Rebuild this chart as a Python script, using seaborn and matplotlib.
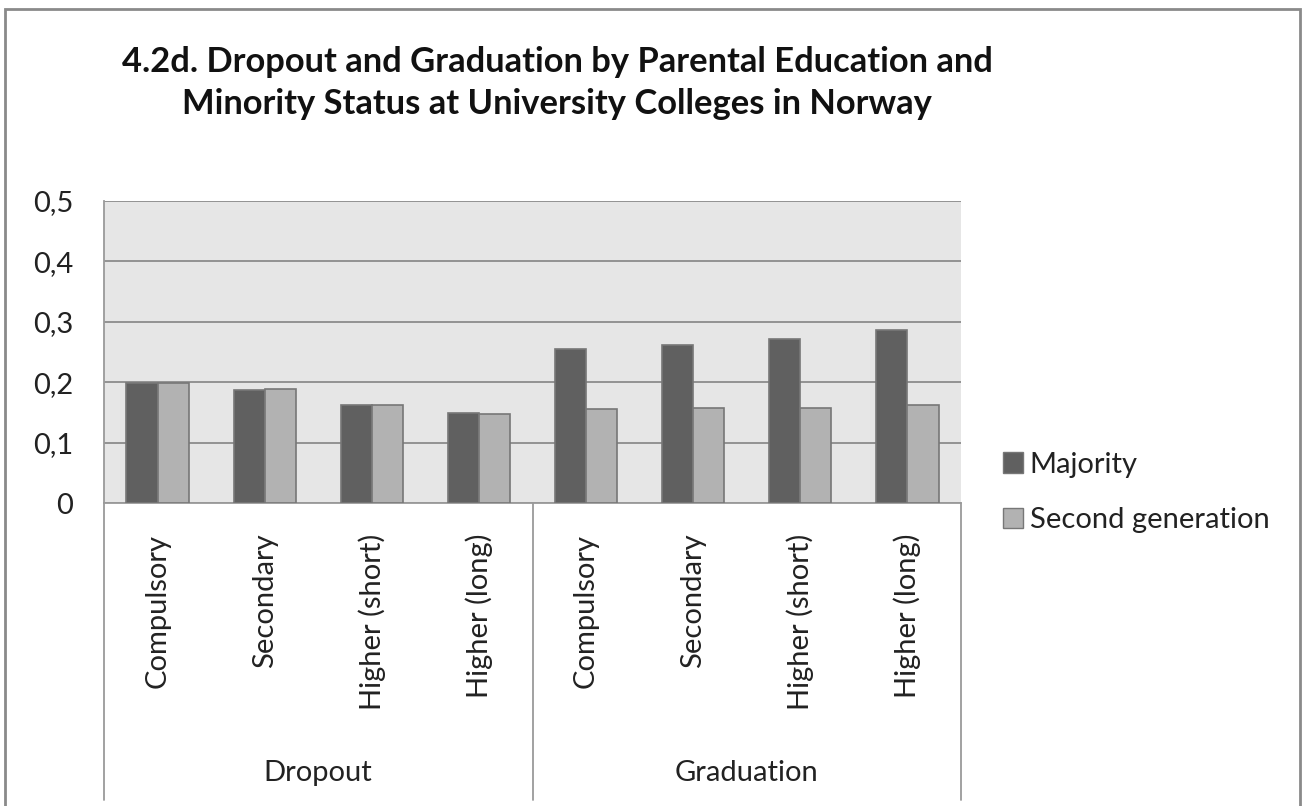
import numpy as np
import pandas as pd
import matplotlib
matplotlib.use("Agg")
import matplotlib.pyplot as plt
import seaborn as sns
from matplotlib.ticker import FuncFormatter, FixedLocator
from matplotlib.lines import Line2D
from matplotlib.patches import Rectangle

# ---- data ----
groups = ["Dropout", "Graduation"]
levels = ["Compulsory", "Secondary", "Higher (short)", "Higher (long)"]
series = ["Majority", "Second generation"]
majority = [0.198, 0.187, 0.163, 0.149, 0.255, 0.262, 0.272, 0.287]
second_gen = [0.198, 0.189, 0.163, 0.148, 0.155, 0.157, 0.157, 0.162]
yticks = [0, 0.1, 0.2, 0.3, 0.4, 0.5]
title = "4.2d. Dropout and Graduation by Parental Education and\nMinority Status at University Colleges in Norway"

keys = [f"{g}|{l}" for g in groups for l in levels]
df = pd.DataFrame({
    "key": keys * 2,
    "series": [series[0]] * 8 + [series[1]] * 8,
    "value": majority + second_gen,
})

sns.set_theme(style="white")
FONT = ["Lato", "DejaVu Sans"]
plt.rcParams["font.family"] = FONT

W, H = 1306, 806
fig = plt.figure(figsize=(W / 100, H / 100), dpi=100)
L, R, T, B = 104, 961, 201, 503
ax = fig.add_axes([L / W, 1 - B / H, (R - L) / W, (B - T) / H])

colors = {"Majority": "#606060", "Second generation": "#b2b2b2"}
sns.barplot(data=df, x="key", y="value", hue="series", order=keys,
            hue_order=series, palette=colors, width=0.58, ax=ax,
            edgecolor="#777777", linewidth=1.2, legend=False, zorder=3)

ax.set_facecolor("#e6e6e6")
ax.set_xlim(-0.5, 7.5)
ax.set_ylim(0, 0.5)
ax.yaxis.set_major_locator(FixedLocator(yticks))
ax.yaxis.set_major_formatter(FuncFormatter(lambda v, p: ("%g" % round(v, 2)).replace(".", ",")))
ax.grid(axis="y", color="#8c8c8c", linewidth=1.3, zorder=0)
ax.set_axisbelow(True)
ax.set_xlabel("")
ax.set_ylabel("")
for s in ["top", "right"]:
    ax.spines[s].set_visible(False)
for s in ["left", "bottom"]:
    ax.spines[s].set_color("#9a9a9a")
    ax.spines[s].set_linewidth(1.3)

ax.tick_params(axis="y", length=0, pad=22, labelsize=21, labelcolor="#222222")
ax.set_xticks(range(8))
ax.set_xticklabels([k.split("|")[1] for k in keys], rotation=90,
                   fontsize=21, color="#222222", va="top", ha="center")
ax.tick_params(axis="x", length=0, pad=22)

# category separators & group labels
trans = ax.get_xaxis_transform()
ybot = -(800 - B) / (B - T)
for xs in [-0.5, 3.5, 7.5]:
    ax.add_line(Line2D([xs, xs], [0, ybot], transform=trans, color="#9a9a9a",
                       linewidth=1.3, clip_on=False))
ylab = -(773 - B) / (B - T)
for i, g in enumerate(groups):
    ax.text(1.5 + 4 * i, ylab, g, transform=trans, ha="center", va="center",
            fontsize=21, color="#222222")

# legend
handles = [Rectangle((0, 0), 1, 1, facecolor=colors[s], edgecolor="#777777", linewidth=1)
           for s in series]
fig.legend(handles, series, loc="center left",
           bbox_to_anchor=(1003 / W, 1 - 492.5 / H), frameon=False,
           fontsize=21, handlelength=0.7, handleheight=0.7, handletextpad=0.22,
           labelspacing=1.02, borderpad=0, borderaxespad=0, labelcolor="#222222")

# title
fig.text(557 / W, 1 - 83 / H, title, ha="center", va="center", fontsize=24.8,
         fontweight="bold", linespacing=1.41, color="#111111")

# outer border
fig.add_artist(Rectangle((5 / W, -0.01), (1300 - 5) / W, 1 - 9 / H + 0.01,
                         transform=fig.transFigure, fill=False,
                         edgecolor="#8a8a8a", linewidth=2))

fig.savefig("out.png", dpi=100, facecolor="white")
